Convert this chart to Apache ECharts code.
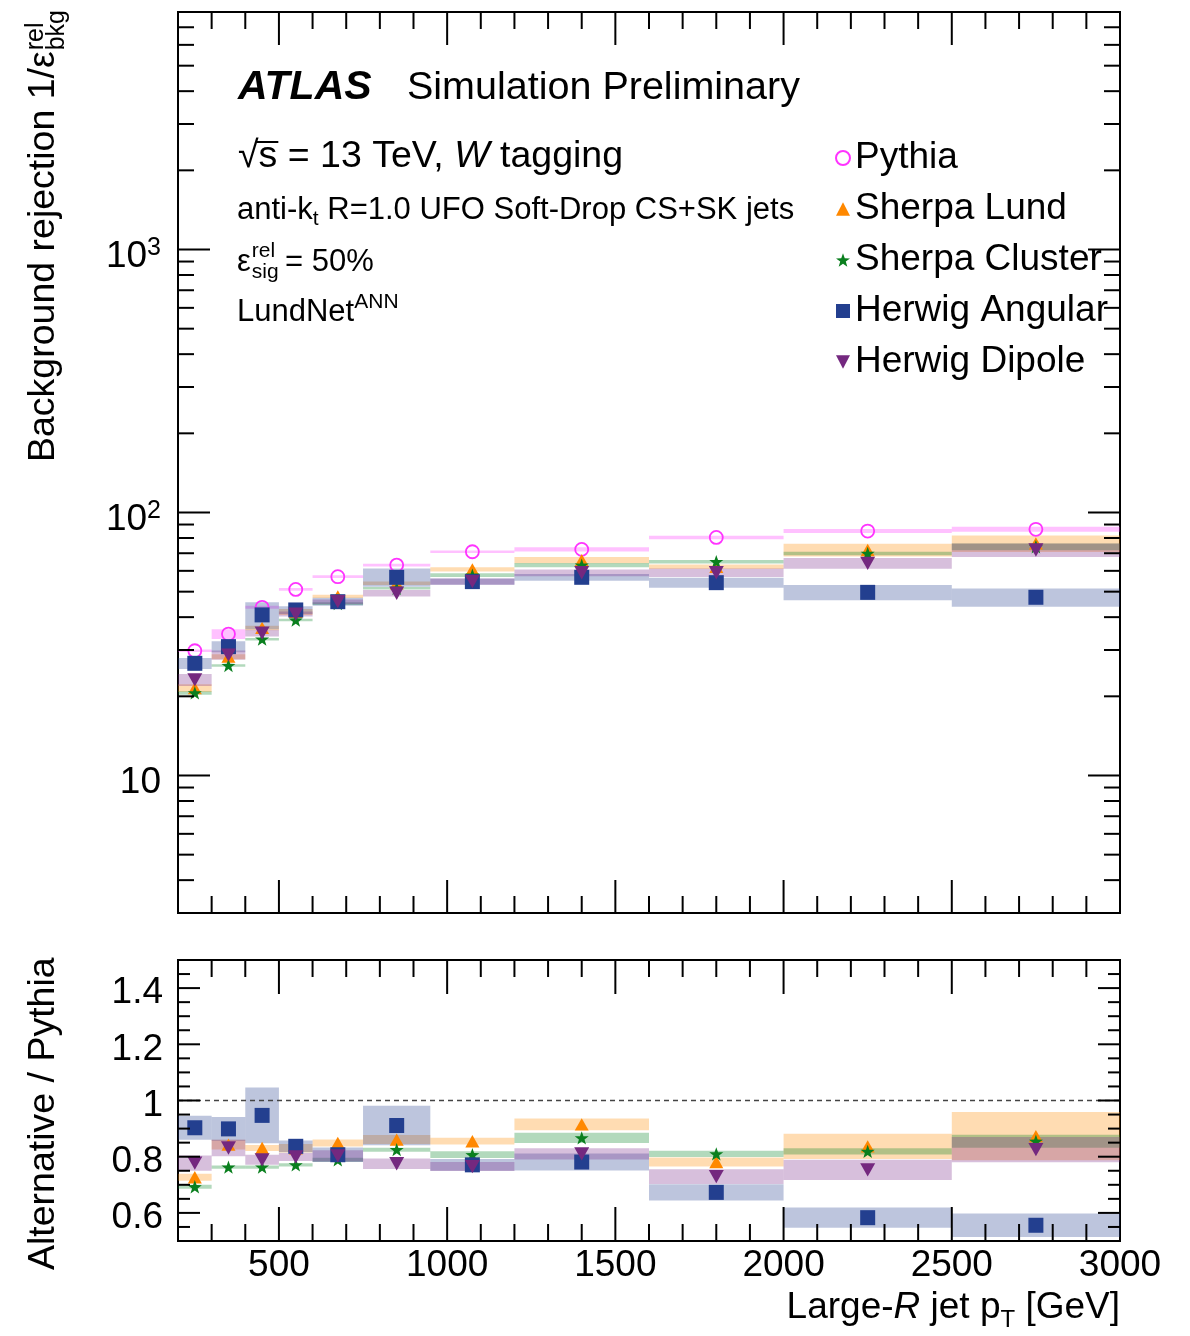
<!DOCTYPE html>
<html><head><meta charset="utf-8">
<script src="https://cdn.jsdelivr.net/npm/echarts@6/dist/echarts.min.js"></script>
<style>html,body{margin:0;padding:0;background:#fff}#c{width:1190px;height:1336px}</style>
</head><body><div id="c"></div><script>
// ---------------- data ----------------
const binEdges = [200, 300, 400, 500, 600, 750, 950, 1200, 1600, 2000, 2500, 3000];

const pythiaMain        = [29.8, 34.5, 43.6, 51.0, 57.0, 63.1, 70.9, 72.4, 80.4, 85.0, 86.3];
const pythiaMainErr     = [0.35, 1.45, 0.57, 0.6, 0.7, 0.75, 0.75, 1.3, 1.2, 1.5, 1.9];
const sherpaLundMain    = [21.5, 28.3, 36.4, 41.9, 48.0, 53.8, 60.8, 65.9, 62.2, 72.0, 76.3];
const sherpaLundMainErr = [0.73, 0.62, 0.7, 1.1, 0.7, 0.8, 1.1, 1.8, 1.2, 4.0, 5.5];
const sherpaClusMain    = [20.6, 26.2, 33.0, 39.0, 45.0, 51.5, 57.8, 63.1, 65.0, 69.9, 74.1];
const sherpaClusMainErr = [0.33, 0.29, 0.36, 0.43, 0.55, 0.55, 1.0, 1.2, 1.0, 1.05, 2.2];
const herwigAngMain     = [26.7, 30.9, 40.8, 42.6, 45.8, 56.7, 54.6, 56.7, 54.1, 49.7, 47.6];
const herwigAngMainErr  = [1.3, 1.5, 4.8, 1.45, 1.6, 4.5, 1.5, 1.7, 2.4, 3.3, 3.8];
const herwigDipMain     = [23.1, 28.7, 34.8, 41.1, 45.8, 49.3, 54.6, 59.0, 59.0, 64.1, 72.0];
const herwigDipMainErr  = [1.2, 1.15, 1.0, 0.9, 0.9, 1.4, 1.5, 1.75, 2.2, 3.0, 4.3];

const sherpaLundRatio    = [0.727, 0.843, 0.831, 0.83, 0.849, 0.861, 0.855, 0.915, 0.781, 0.837, 0.873];
const sherpaLundRatioErr = [0.0125, 0.017, 0.011, 0.015, 0.0125, 0.016, 0.012, 0.021, 0.016, 0.045, 0.086];
const sherpaClusRatio    = [0.693, 0.763, 0.763, 0.771, 0.789, 0.825, 0.807, 0.867, 0.81, 0.819, 0.855];
const sherpaClusRatioErr = [0.007, 0.006, 0.006, 0.006, 0.007, 0.007, 0.012, 0.018, 0.011, 0.011, 0.023];
const herwigAngRatio     = [0.903, 0.899, 0.947, 0.837, 0.807, 0.911, 0.771, 0.781, 0.673, 0.583, 0.556];
const herwigAngRatioErr  = [0.043, 0.042, 0.099, 0.021, 0.026, 0.07, 0.021, 0.03, 0.029, 0.036, 0.042];
const herwigDipRatio     = [0.777, 0.831, 0.789, 0.799, 0.803, 0.775, 0.765, 0.81, 0.729, 0.753, 0.825];
const herwigDipRatioErr  = [0.027, 0.029, 0.018, 0.014, 0.02, 0.019, 0.016, 0.02, 0.026, 0.036, 0.045];

const xMajorTicks = [500, 1000, 1500, 2000, 2500];
const xMinorTicks = [300, 400, 600, 700, 800, 900, 1100, 1200, 1300, 1400, 1600, 1700, 1800, 1900,
                     2100, 2200, 2300, 2400, 2600, 2700, 2800, 2900];
const yMainMajorTicks = [10, 100, 1000];
const yMainMinorTicks = [4, 5, 6, 7, 8, 9, 20, 30, 40, 50, 60, 70, 80, 90,
                         200, 300, 400, 500, 600, 700, 800, 900, 2000, 3000, 4000, 5000, 6000, 7000];
const yRatioMajorTicks = [0.6, 0.8, 1.0, 1.2, 1.4];
const yRatioMinorTicks = [0.55, 0.65, 0.7, 0.75, 0.85, 0.9, 0.95, 1.05, 1.1, 1.15, 1.25, 1.3, 1.35, 1.45];
const ratioXLabels = [500, 1000, 1500, 2000, 2500, 3000];
const ratioYLabels = [0.6, 0.8, 1.0, 1.2, 1.4];

// ---------------- styling ----------------
const FF = '"Liberation Sans", Arial, Helvetica, sans-serif';
const STAR = 'path://M50,0L61.8,33.8L97.6,34.5L69,56.2L79.4,90.5L50,70L20.6,90.5L31,56.2L2.4,34.5L38.2,33.8Z';
const DTRI = 'path://M0,0L10,0L5,9.5Z';
const UTRI = 'path://M5,0L10,9.5L0,9.5Z';

const models = [
  {name:'Pythia', main:pythiaMain, mainErr:pythiaMainErr, ratio:null, ratioErr:null,
   color:'#ff33ff', band:'rgba(255,51,255,0.3)', symbol:'circle', size:13, hollow:true},
  {name:'Sherpa Lund', main:sherpaLundMain, mainErr:sherpaLundMainErr, ratio:sherpaLundRatio, ratioErr:sherpaLundRatioErr,
   color:'#ff8800', band:'rgba(255,140,0,0.3)', symbol:UTRI, size:[14,13]},
  {name:'Sherpa Cluster', main:sherpaClusMain, mainErr:sherpaClusMainErr, ratio:sherpaClusRatio, ratioErr:sherpaClusRatioErr,
   color:'#0a7f1e', band:'rgba(0,128,32,0.3)', symbol:STAR, size:14},
  {name:'Herwig Angular', main:herwigAngMain, mainErr:herwigAngMainErr, ratio:herwigAngRatio, ratioErr:herwigAngRatioErr,
   color:'#233f8f', band:'rgba(35,63,143,0.3)', symbol:'rect', size:15},
  {name:'Herwig Dipole', main:herwigDipMain, mainErr:herwigDipMainErr, ratio:herwigDipRatio, ratioErr:herwigDipRatioErr,
   color:'#74287f', band:'rgba(123,42,139,0.3)', symbol:DTRI, size:[15,14]}
];

const centers = binEdges.slice(0, -1).map((e, i) => (e + binEdges[i + 1]) / 2);

function bandSeries(name, vals, errs, color, gi) {
  return {
    type:'custom', name:'band ' + name, xAxisIndex:gi, yAxisIndex:gi, silent:true, z:1,
    data: vals.map((v, i) => [binEdges[i], binEdges[i + 1], v - errs[i], v + errs[i]]),
    encode:{x:[0, 1], y:[2, 3]},
    renderItem:(params, api) => {
      const p1 = api.coord([api.value(0), api.value(3)]);
      const p2 = api.coord([api.value(1), api.value(2)]);
      const cs = params.coordSys;
      const r = echarts.graphic.clipRectByRect(
        {x:p1[0], y:p1[1], width:p2[0] - p1[0], height:p2[1] - p1[1]},
        {x:cs.x, y:cs.y, width:cs.width, height:cs.height});
      if (!r) return null;
      return {type:'rect', shape:r, style:{fill:color}};
    }
  };
}
function markerSeries(m, vals, gi) {
  return {
    type:'scatter', name:m.name, xAxisIndex:gi, yAxisIndex:gi, silent:true, z:4,
    data: centers.map((c, i) => [c, vals[i]]),
    symbol:m.symbol, symbolSize:m.size, symbolKeepAspect:true,
    itemStyle: m.hollow ? {color:'rgba(0,0,0,0)', borderColor:m.color, borderWidth:1.8, opacity:1}
                        : {color:m.color, opacity:1}
  };
}
function tickLine(x1, y1, x2, y2) {
  return {type:'line', shape:{x1, y1, x2, y2}, style:{stroke:'#000', lineWidth:2}};
}
function xTickSeries(gi, vals, len, yRef) {
  return {
    type:'custom', xAxisIndex:gi, yAxisIndex:gi, silent:true, z:6,
    data: vals.map(v => [v, yRef]),
    renderItem:(params, api) => {
      const cs = params.coordSys;
      const x = api.coord([api.value(0), yRef])[0];
      return {type:'group', children:[
        tickLine(x, cs.y + cs.height, x, cs.y + cs.height - len),
        tickLine(x, cs.y, x, cs.y + len)]};
    }
  };
}
function yTickSeries(gi, vals, len, xRef) {
  return {
    type:'custom', xAxisIndex:gi, yAxisIndex:gi, silent:true, z:6,
    data: vals.map(v => [xRef, v]),
    renderItem:(params, api) => {
      const cs = params.coordSys;
      const y = api.coord([xRef, api.value(1)])[1];
      return {type:'group', children:[
        tickLine(cs.x, y, cs.x + len, y),
        tickLine(cs.x + cs.width, y, cs.x + cs.width - len, y)]};
    }
  };
}

const series = [];
models.forEach(m => series.push(bandSeries(m.name, m.main, m.mainErr, m.band, 0)));
models.forEach(m => { if (m.ratio) series.push(bandSeries(m.name, m.ratio, m.ratioErr, m.band, 1)); });
series.push({type:'line', name:'unity', xAxisIndex:1, yAxisIndex:1, silent:true, z:2, symbol:'none',
  data:[[binEdges[0], 1], [binEdges[binEdges.length - 1], 1]],
  lineStyle:{color:'#444', width:1.5, type:[5, 4]}});
models.forEach(m => series.push(markerSeries(m, m.main, 0)));
models.forEach(m => { if (m.ratio) series.push(markerSeries(m, m.ratio, 1)); });
series.push(xTickSeries(0, xMajorTicks, 33, 10), xTickSeries(0, xMinorTicks, 17, 10));
series.push(xTickSeries(1, xMajorTicks, 34, 1), xTickSeries(1, xMinorTicks, 17, 1));
series.push(yTickSeries(0, yMainMajorTicks, 32, 1000), yTickSeries(0, yMainMinorTicks, 16, 1000));
series.push(yTickSeries(1, yRatioMajorTicks, 22, 1000), yTickSeries(1, yRatioMinorTicks, 12, 1000));

// text measuring
const mctx = document.createElement('canvas').getContext('2d');
function tw(t, font) { mctx.font = font; return mctx.measureText(t).width; }

const yTitle = 'Background rejection 1/\u03b5';
const yTitleFont = '37.5px ' + FF;
const wY = tw(yTitle, yTitleFont);
const sqrtW = tw('\u221a', '37.5px ' + FF);
const sW = tw('s', '37.5px ' + FF);
const epsW = tw('\u03b5', '31px ' + FF);

const txt = (x, y, text, font, extra) => Object.assign({type:'text', x, y, silent:true,
  style:Object.assign({text, font, fill:'#000', verticalAlign:'middle', align:'left'}, extra || {})});

const graphic = [
  txt(238, 88, 'ATLAS', 'italic bold 41px ' + FF),
  txt(407, 88, 'Simulation Preliminary', '39.5px ' + FF),
  {type:'text', x:238, y:157, silent:true, style:{
    text:'{n|\u221as = 13 TeV, }{i|W}{n| tagging}', verticalAlign:'middle', align:'left', fill:'#000',
    rich:{n:{font:'37.5px ' + FF, fill:'#000'}, i:{font:'italic 37.5px ' + FF, fill:'#000'}}}},
  {type:'line', silent:true, shape:{x1:238 + sqrtW - 2, y1:142, x2:238 + sqrtW + sW + 1, y2:142}, style:{stroke:'#000', lineWidth:2}},
  {type:'text', x:237, y:210, silent:true, style:{
    text:'{n|anti-k}{s|t}{n| R=1.0 UFO Soft-Drop CS+SK jets}', verticalAlign:'middle', align:'left', fill:'#000',
    rich:{n:{font:'31px ' + FF, lineHeight:40, verticalAlign:'middle', fill:'#000'},
          s:{font:'21px ' + FF, lineHeight:16, verticalAlign:'bottom', fill:'#000'}}}},
  txt(237, 262, '\u03b5', '31px ' + FF),
  txt(237 + epsW + 1, 251, 'rel', '21px ' + FF),
  txt(237 + epsW + 1, 272, 'sig', '21px ' + FF),
  txt(285, 262, '= 50%', '31px ' + FF),
  {type:'text', x:237, y:312, silent:true, style:{
    text:'{n|LundNet}{s|ANN}', verticalAlign:'middle', align:'left', fill:'#000',
    rich:{n:{font:'31px ' + FF, lineHeight:40, verticalAlign:'middle', fill:'#000'},
          s:{font:'21px ' + FF, lineHeight:20, verticalAlign:'top', fill:'#000'}}}},
  {type:'group', x:44, y:462, rotation:Math.PI / 2, silent:true, children:[
    txt(0, 0, yTitle, yTitleFont),
    txt(wY + 1, -8, 'rel', '25px ' + FF),
    txt(wY + 1, 13, 'bkg', '25px ' + FF)
  ]},
  {type:'group', x:44, y:1270, rotation:Math.PI / 2, silent:true, children:[
    txt(0, 0, 'Alternative / Pythia', '37.5px ' + FF)
  ]},
  {type:'text', x:1120, y:1308, silent:true, style:{
    text:'{n|Large-}{i|R}{n| jet p}{s|T}{n| [GeV]}', verticalAlign:'middle', align:'right', fill:'#000',
    rich:{n:{font:'37px ' + FF, lineHeight:48, verticalAlign:'middle', fill:'#000'},
          i:{font:'italic 37px ' + FF, lineHeight:48, verticalAlign:'middle', fill:'#000'},
          s:{font:'24px ' + FF, lineHeight:18, verticalAlign:'bottom', fill:'#000'}}}}
];

const isIn = (v, arr) => arr.some(a => Math.abs(a - v) < 1e-6);

const option = {
  animation:false,
  backgroundColor:'#fff',
  textStyle:{fontFamily:FF},
  grid:[
    {left:178, top:12, width:942, height:901, show:true, borderColor:'#000', borderWidth:2, backgroundColor:'rgba(0,0,0,0)', containLabel:false},
    {left:178, top:960, width:942, height:281, show:true, borderColor:'#000', borderWidth:2, backgroundColor:'rgba(0,0,0,0)', containLabel:false}
  ],
  xAxis:[
    {gridIndex:0, type:'value', min:binEdges[0], max:binEdges[binEdges.length - 1], interval:100,
     axisLine:{show:false}, axisTick:{show:false}, axisLabel:{show:false}, splitLine:{show:false}},
    {gridIndex:1, type:'value', min:binEdges[0], max:binEdges[binEdges.length - 1], interval:100,
     axisLine:{show:false}, axisTick:{show:false}, splitLine:{show:false},
     axisLabel:{color:'#000', fontSize:37, fontFamily:FF, margin:6, showMinLabel:true, showMaxLabel:true,
       formatter:v => isIn(v, ratioXLabels) ? String(Math.round(v)) : ''}}
  ],
  yAxis:[
    {gridIndex:0, type:'log', logBase:10, min:3, max:8000,
     axisLine:{show:false}, axisTick:{show:false}, splitLine:{show:false}, minorTick:{show:false},
     axisLabel:{color:'#000', margin:17, showMinLabel:true, showMaxLabel:true, padding:[14, 0, 0, 0],
       formatter:v => {
         const e = Math.log10(v); const n = Math.round(e);
         if (Math.abs(e - n) > 1e-6 || !isIn(v, yMainMajorTicks)) return '';
         return n === 1 ? '{b|10}' : '{b|10}{s|' + n + '}';
       },
       rich:{b:{fontSize:37, fontFamily:FF, color:'#000', lineHeight:42, verticalAlign:'middle'},
             s:{fontSize:25, fontFamily:FF, color:'#000', lineHeight:24, verticalAlign:'top'}}}},
    {gridIndex:1, type:'value', min:0.5, max:1.5, interval:0.1,
     axisLine:{show:false}, axisTick:{show:false}, splitLine:{show:false},
     axisLabel:{color:'#000', margin:15, padding:[10, 0, 0, 0],
       formatter:v => {
         const r = Math.round(v * 100) / 100;
         if (!isIn(r, ratioYLabels)) return '';
         return '{v|' + (Math.abs(r - 1) < 1e-6 ? '1' : r.toFixed(1)) + '}';
       },
       rich:{v:{fontSize:37, fontFamily:FF, color:'#000', lineHeight:42, verticalAlign:'middle'}}}}
  ],
  legend:{
    orient:'vertical', left:830, top:134.5, itemWidth:14, itemHeight:14, itemGap:14,
    selectedMode:false,
    textStyle:{fontSize:37, lineHeight:37, color:'#000', fontFamily:FF},
    data:[
      {name:'Pythia', icon:'circle', itemStyle:{color:'rgba(0,0,0,0)', borderColor:'#ff33ff', borderWidth:2, opacity:1}},
      {name:'Sherpa Lund', icon:UTRI, itemStyle:{color:'#ff8800', borderWidth:0, opacity:1}},
      {name:'Sherpa Cluster', icon:STAR, itemStyle:{color:'#0a7f1e', borderWidth:0, opacity:1}},
      {name:'Herwig Angular', icon:'rect', itemStyle:{color:'#233f8f', borderWidth:0, opacity:1}},
      {name:'Herwig Dipole', icon:DTRI, itemStyle:{color:'#74287f', borderWidth:0, opacity:1}}
    ]
  },
  graphic:graphic,
  series:series
};

const chart = echarts.init(document.getElementById('c'), null, {renderer:'canvas'});
chart.setOption(option);
</script></body></html>
